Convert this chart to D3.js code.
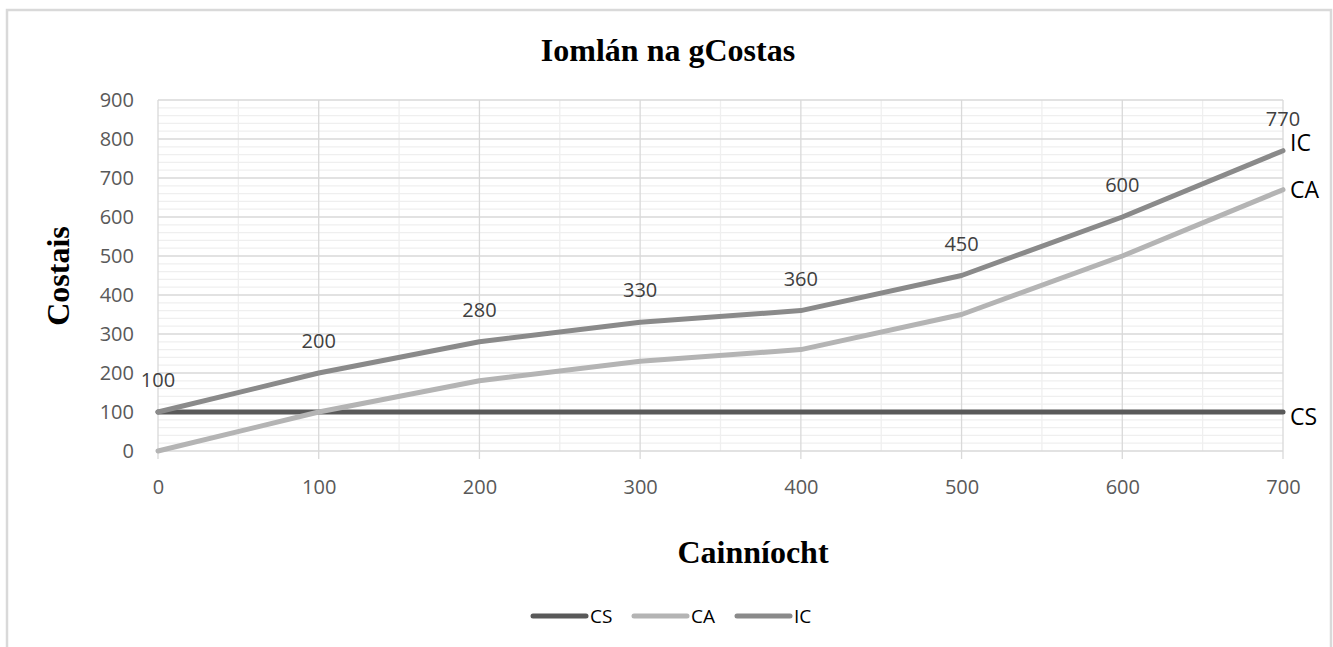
<!DOCTYPE html>
<html>
<head>
<meta charset="utf-8">
<script src="https://cdn.jsdelivr.net/npm/d3@7"></script>
<style>
  body { margin: 0; background: #fff; }
  svg { display: block; }
</style>
</head>
<body>
<div id="chart"></div>
<script>
// data
const quantities = [0, 100, 200, 300, 400, 500, 600, 700];
const csValues = [100, 100, 100, 100, 100, 100, 100, 100];
const caValues = [0, 100, 180, 230, 260, 350, 500, 670];
const icValues = [100, 200, 280, 330, 360, 450, 600, 770];
const seriesNames = ["CS", "CA", "IC"];
const seriesColors = ["#595959", "#b4b4b4", "#8a8a8a"];
const yTicks = [0, 100, 200, 300, 400, 500, 600, 700, 800, 900];

const width = 1333, height = 647;
const margin = { left: 158, right: 50, top: 100, bottom: 196 };

const svg = d3.select("#chart").append("svg")
  .attr("width", width)
  .attr("height", height);

// outer frame (bottom edge runs off the picture)
svg.append("path")
  .attr("d", "M7,660 L7,10 L1331,10 L1331,660")
  .attr("fill", "none")
  .attr("stroke", "#d9d9d9")
  .attr("stroke-width", 2.5);

const x = d3.scaleLinear().domain([0, 700]).range([margin.left, width - margin.right]);
const y = d3.scaleLinear().domain([0, 900]).range([height - margin.bottom, margin.top]);

// minor grid
const grid = svg.append("g");
grid.selectAll("line.ymin")
  .data(d3.range(0, 901, 20).filter(v => v % 100 !== 0))
  .enter().append("line")
  .attr("x1", x(0)).attr("x2", x(700))
  .attr("y1", d => y(d)).attr("y2", d => y(d))
  .attr("stroke", "#efefef").attr("stroke-width", 1.3);
grid.selectAll("line.xmin")
  .data(d3.range(50, 700, 100))
  .enter().append("line")
  .attr("y1", y(0)).attr("y2", y(900))
  .attr("x1", d => x(d)).attr("x2", d => x(d))
  .attr("stroke", "#efefef").attr("stroke-width", 1.3);

// major grid (verticals run a little past the axis like tick marks)
grid.selectAll("line.ymaj")
  .data(yTicks)
  .enter().append("line")
  .attr("x1", x(0)).attr("x2", x(700))
  .attr("y1", d => y(d)).attr("y2", d => y(d))
  .attr("stroke", "#d9d9d9").attr("stroke-width", 1.3);
grid.selectAll("line.xmaj")
  .data(quantities)
  .enter().append("line")
  .attr("y1", y(0) + 8).attr("y2", y(900))
  .attr("x1", d => x(d)).attr("x2", d => x(d))
  .attr("stroke", "#d9d9d9").attr("stroke-width", 1.3);

// axes
const yAxis = svg.append("g")
  .attr("transform", `translate(${x(0)},0)`)
  .call(d3.axisLeft(y).tickValues(yTicks).tickSize(0).tickPadding(24));
const xAxis = svg.append("g")
  .attr("transform", `translate(0,${y(0)})`)
  .call(d3.axisBottom(x).tickValues(quantities).tickSize(0).tickPadding(29));
[yAxis, xAxis].forEach(a => {
  a.select(".domain").remove();
  a.selectAll("text")
    .attr("fill", "#595959")
    .style("font-family", "'Open Sans', sans-serif")
    .style("font-size", "20px");
});

// lines
const allSeries = [csValues, caValues, icValues];
const line = d3.line()
  .x((d, i) => x(quantities[i]))
  .y(d => y(d));

svg.append("g").selectAll("path")
  .data(allSeries)
  .enter().append("path")
  .attr("d", d => line(d))
  .attr("fill", "none")
  .attr("stroke", (d, i) => seriesColors[i])
  .attr("stroke-width", 5)
  .attr("stroke-linejoin", "round")
  .attr("stroke-linecap", "round");

// data labels on IC
svg.append("g").selectAll("text")
  .data(icValues)
  .enter().append("text")
  .attr("x", (d, i) => x(quantities[i]))
  .attr("y", d => y(d) - 25)
  .attr("text-anchor", "middle")
  .attr("fill", "#404040")
  .style("font-family", "'Open Sans', sans-serif")
  .style("font-size", "20px")
  .text(d => d);

// series labels at line ends
const endOffsets = [5, 0, -8];
svg.append("g").selectAll("text")
  .data(allSeries)
  .enter().append("text")
  .attr("x", x(700) + 7)
  .attr("y", (d, i) => y(d[d.length - 1]) + endOffsets[i])
  .attr("dy", "0.35em")
  .attr("fill", "#000")
  .style("font-family", "'Open Sans', sans-serif")
  .style("font-size", "23px")
  .text((d, i) => seriesNames[i]);

// titles
svg.append("text")
  .attr("x", 668).attr("y", 61)
  .attr("text-anchor", "middle")
  .style("font-family", "'Liberation Serif', serif")
  .style("font-weight", "bold")
  .style("font-size", "32px")
  .text("Iomlán na gCostas");

svg.append("text")
  .attr("x", 753).attr("y", 563)
  .attr("text-anchor", "middle")
  .style("font-family", "'Liberation Serif', serif")
  .style("font-weight", "bold")
  .style("font-size", "32px")
  .text("Cainníocht");

svg.append("text")
  .attr("transform", "translate(69,276) rotate(-90)")
  .attr("text-anchor", "middle")
  .style("font-family", "'Liberation Serif', serif")
  .style("font-weight", "bold")
  .style("font-size", "32px")
  .text("Costais");

// legend
const legend = svg.append("g").attr("transform", "translate(533,616)");
const legendX = [0, 101, 204];
seriesNames.forEach((name, i) => {
  const item = legend.append("g").attr("transform", `translate(${legendX[i]},0)`);
  item.append("line")
    .attr("x1", 0).attr("x2", 53)
    .attr("stroke", seriesColors[i])
    .attr("stroke-width", 5)
    .attr("stroke-linecap", "round");
  item.append("text")
    .attr("x", 57).attr("dy", "0.35em")
    .style("font-family", "'Open Sans', sans-serif")
    .style("font-size", "19px")
    .text(name);
});
</script>
</body>
</html>
